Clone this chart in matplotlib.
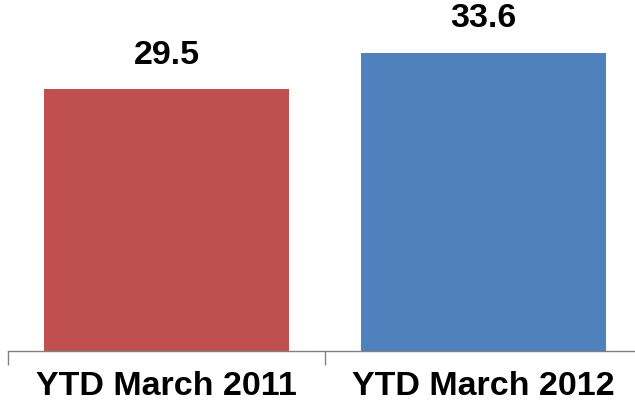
import matplotlib
matplotlib.use('Agg')
import matplotlib.pyplot as plt

categories = ['YTD March 2011', 'YTD March 2012']
values = [29.5, 33.6]
colors = ['#C0504D', '#4F81BD']

plt.rcParams['font.family'] = ['Liberation Sans', 'DejaVu Sans']

fig = plt.figure(figsize=(6.35, 4.06), dpi=100)
# axes runs a bit past the right edge, as in the original
ax = fig.add_axes([8 / 635, 54 / 406, 634 / 635, 352 / 406])

x = range(len(categories))
bars = ax.bar(x, values, width=0.77, color=colors)
for b, v in zip(bars, values):
    ax.text(b.get_x() + b.get_width() / 2, v + 2.2, '%.1f' % v,
            ha='center', va='bottom', fontsize=24.5, fontweight='bold')

ax.set_xlim(-0.5, 1.5)
ax.set_ylim(0, 39.64)
ax.set_xticks([-0.5, 0.5, 1.5])
ax.set_xticklabels([])
ax.set_xticks([0, 1], minor=True)
ax.set_xticklabels(categories, minor=True, fontsize=24.5, fontweight='bold')
ax.tick_params(axis='x', which='major', length=10, width=1, color='#808080', direction='out')
ax.tick_params(axis='x', which='minor', length=0, pad=14)
ax.set_yticks([])
for s in ['top', 'right', 'left']:
    ax.spines[s].set_visible(False)
ax.spines['bottom'].set_color('#808080')
ax.spines['bottom'].set_linewidth(1)

fig.savefig('out.png', dpi=100)
